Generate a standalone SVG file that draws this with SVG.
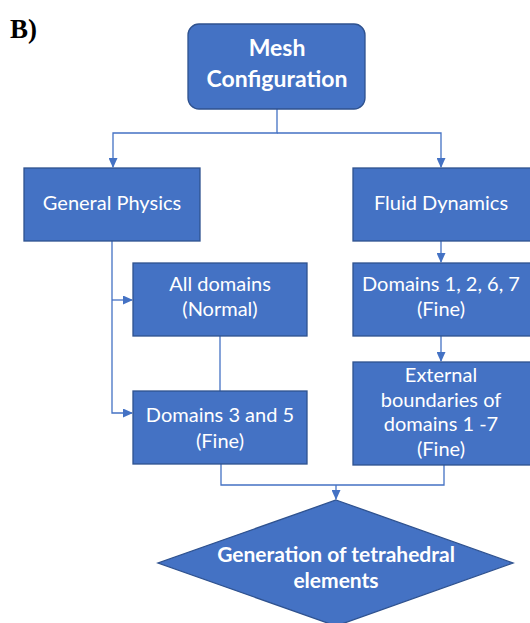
<svg xmlns="http://www.w3.org/2000/svg" width="530" height="623" viewBox="0 0 530 623">
<style>
.box{fill:#4472C4;stroke:#2F528F;stroke-width:1.3}
.t{font-family:Lato,"Open Sans",sans-serif;font-size:20px;fill:#fff;text-anchor:middle}
.b{font-weight:bold;font-size:21px}
.m{font-size:23px}
.c{fill:none;stroke:#4472C4;stroke-width:1.3}
</style>
<defs>
<marker id="ah" markerWidth="10" markerHeight="9" refX="9" refY="4.5" orient="auto" markerUnits="userSpaceOnUse">
<path d="M0,0 L10,4.5 L0,9 Z" fill="#4472C4"/>
</marker>
</defs>
<rect width="530" height="623" fill="#fff"/>
<text x="10" y="38" font-family="Liberation Serif,serif" font-weight="bold" font-size="27">B)</text>
<g id="connectors">
<path class="c" d="M277,109 V133 H113 V167" marker-end="url(#ah)"/>
<path class="c" d="M277,133 H441 V167" marker-end="url(#ah)"/>
<path class="c" d="M112,241 V413 H132" marker-end="url(#ah)"/>
<path class="c" d="M112,300 H132" marker-end="url(#ah)"/>
<path class="c" d="M220,336 V391"/>
<path class="c" d="M441,241 V262" marker-end="url(#ah)"/>
<path class="c" d="M441,336 V361" marker-end="url(#ah)"/>
<path class="c" d="M221,464 V485 H444 V465"/>
<path class="c" d="M336,485 V499" marker-end="url(#ah)"/>
</g>
<g id="mesh">
<rect class="box" x="188" y="24" width="177" height="85" rx="11"/>
<text class="t b m" x="277" y="56">Mesh</text>
<text class="t b m" x="277" y="87">Configuration</text>
</g>
<g id="general">
<rect class="box" x="24" y="168" width="176" height="73"/>
<text class="t" x="112" y="210">General Physics</text>
</g>
<g id="fluid">
<rect class="box" x="353" y="168" width="180" height="73"/>
<text class="t" x="441" y="210">Fluid Dynamics</text>
</g>
<g id="alldomains">
<rect class="box" x="133" y="263" width="174" height="73"/>
<text class="t" x="220" y="291">All domains</text>
<text class="t" x="220" y="316">(Normal)</text>
</g>
<g id="domains1267">
<rect class="box" x="353" y="263" width="180" height="73"/>
<text class="t" x="441" y="291">Domains 1, 2, 6, 7</text>
<text class="t" x="441" y="316">(Fine)</text>
</g>
<g id="domains35">
<rect class="box" x="133" y="391" width="174" height="73"/>
<text class="t" x="220" y="422">Domains 3 and 5</text>
<text class="t" x="220" y="448">(Fine)</text>
</g>
<g id="external">
<rect class="box" x="353" y="362" width="180" height="103"/>
<text class="t" x="441" y="382">External</text>
<text class="t" x="441" y="407">boundaries of</text>
<text class="t" x="441" y="431">domains 1 -7</text>
<text class="t" x="441" y="456">(Fine)</text>
</g>
<g id="generation">
<polygon class="box" points="336,500 513,563 336,626 158,563"/>
<text class="t b" x="336" y="562">Generation of tetrahedral</text>
<text class="t b" x="336" y="588">elements</text>
</g>
</svg>
